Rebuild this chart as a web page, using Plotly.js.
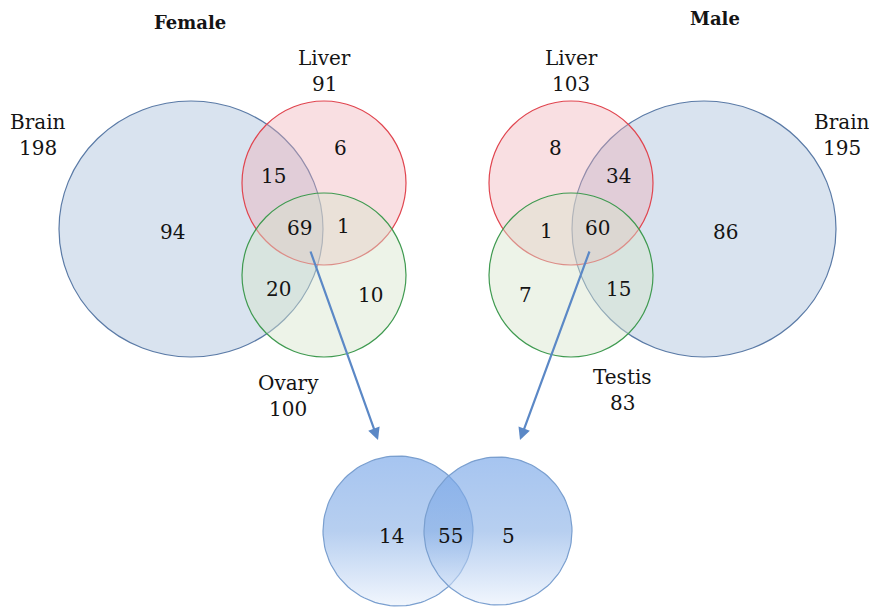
<!DOCTYPE html>
<html>
<head>
<meta charset="utf-8">
<script src="https://cdn.plot.ly/plotly-3.0.1.min.js"></script>
<style>html,body{margin:0;padding:0;background:#fff;}#chart{width:869px;height:607px;}</style>
</head>
<body>
<div id="chart"></div>
<script>
// ---- data ----
var panelTitles = ["Female", "Male"];
var femaleSets = ["Brain", "Liver", "Ovary"];
var femaleTotals = [198, 91, 100];
// regions: Brain only, Brain∩Liver, Liver only, all three, Liver∩Ovary, Brain∩Ovary, Ovary only
var femaleRegions = [94, 15, 6, 69, 1, 20, 10];
var maleSets = ["Brain", "Liver", "Testis"];
var maleTotals = [195, 103, 83];
// regions: Brain only, Brain∩Liver, Liver only, all three, Liver∩Testis, Brain∩Testis, Testis only
var maleRegions = [86, 34, 8, 60, 1, 15, 7];
// shared core comparison: female-only, both, male-only
var coreRegions = [14, 55, 5];

// ---- layout geometry (pixel space) ----
var W = 869, H = 607;
var fontFam = "DejaVu Serif, Liberation Serif, serif";
var fs = 20;

var circles = [
  // female
  {cx:191, cy:229, rx:132, ry:128, line:'#5a7aa6', fill:'rgba(170,192,220,0.45)'},
  {cx:324, cy:183, rx:82, ry:82, line:'#e0454f', fill:'rgba(240,170,178,0.38)'},
  {cx:324, cy:275, rx:82, ry:82, line:'#3f9a50', fill:'rgba(215,228,205,0.45)'},
  // male
  {cx:704, cy:229, rx:132, ry:128, line:'#5a7aa6', fill:'rgba(170,192,220,0.45)'},
  {cx:571, cy:183, rx:82, ry:82, line:'#e0454f', fill:'rgba(240,170,178,0.38)'},
  {cx:571, cy:275, rx:82, ry:82, line:'#3f9a50', fill:'rgba(215,228,205,0.45)'}
];

var shapes = circles.map(function(c){
  return {type:'circle', xref:'x', yref:'y', x0:c.cx-c.rx, x1:c.cx+c.rx, y0:c.cy-c.ry, y1:c.cy+c.ry,
          line:{color:c.line, width:1.2}, fillcolor:c.fill, layer:'above'};
});

// bottom gradient circles as filled scatter traces
var coreCircles = [{cx:398, cy:531, r:75}, {cx:498, cy:531, r:74}];
var traces = coreCircles.map(function(c){
  var xs = [], ys = [];
  for (var i = 0; i <= 120; i++) {
    var t = 2*Math.PI*i/120;
    xs.push(c.cx + c.r*Math.cos(t));
    ys.push(c.cy + c.r*Math.sin(t));
  }
  return {type:'scatter', mode:'lines', x:xs, y:ys, fill:'toself',
          line:{color:'#7a9fcf', width:1.2},
          fillgradient:{type:'vertical', start:c.cy-c.r, stop:c.cy+c.r,
            colorscale:[[0,'rgba(118,165,232,0.65)'],[0.5,'rgba(135,175,230,0.6)'],[1,'rgba(232,240,252,0.6)']]},
          hoverinfo:'skip', showlegend:false};
});

var annotations = [];
function txt(x, y, s, size, bold){
  annotations.push({x:x, y:y, xref:'x', yref:'y', text: bold ? '<b>'+s+'</b>' : String(s), showarrow:false,
    font:{family:fontFam, size:size, color:'#141414'}, xanchor:'center', yanchor:'middle'});
}
// titles
var titlePos = [[190, 22], [715, 18]];
panelTitles.forEach(function(t,i){ txt(titlePos[i][0], titlePos[i][1], t, 18, true); });

// set labels + totals
var femaleLabelPos = [[38, 122], [324, 58], [288, 383]];
var maleLabelPos = [[842, 122], [571, 58], [622, 377]];
femaleSets.forEach(function(s,i){
  txt(femaleLabelPos[i][0], femaleLabelPos[i][1], s, fs);
  txt(femaleLabelPos[i][0], femaleLabelPos[i][1]+26, femaleTotals[i], fs);
});
maleSets.forEach(function(s,i){
  txt(maleLabelPos[i][0], maleLabelPos[i][1], s, fs);
  txt(maleLabelPos[i][0], maleLabelPos[i][1]+26, maleTotals[i], fs);
});

// region counts
var femaleRegionPos = [[172,232],[273,176],[340,148],[299,228],[343,226],[278,289],[370,295]];
var maleRegionPos = [[725,232],[618,176],[555,148],[597,228],[546,231],[618,289],[525,295]];
femaleRegions.forEach(function(v,i){ txt(femaleRegionPos[i][0], femaleRegionPos[i][1], v, fs); });
maleRegions.forEach(function(v,i){ txt(maleRegionPos[i][0], maleRegionPos[i][1], v, fs); });
var corePos = [[391,536],[450,536],[508,536]];
coreRegions.forEach(function(v,i){ txt(corePos[i][0], corePos[i][1], v, fs); });

// arrows
var arrows = [[310,250,378,440],[590,250,520,440]];
arrows.forEach(function(a){
  annotations.push({x:a[2], y:a[3], ax:a[0], ay:a[1], xref:'x', yref:'y', axref:'x', ayref:'y',
    showarrow:true, arrowhead:2, arrowsize:1.1, arrowwidth:2.2, arrowcolor:'#5b88c6', text:''});
});

var layout = {
  width:W, height:H, margin:{l:0,r:0,t:0,b:0},
  paper_bgcolor:'#fff', plot_bgcolor:'#fff',
  xaxis:{range:[0,W], visible:false, fixedrange:true},
  yaxis:{range:[H,0], visible:false, fixedrange:true},
  shapes:shapes, annotations:annotations, showlegend:false
};
Plotly.newPlot('chart', traces, layout, {staticPlot:true, displayModeBar:false});
</script>
</body>
</html>
